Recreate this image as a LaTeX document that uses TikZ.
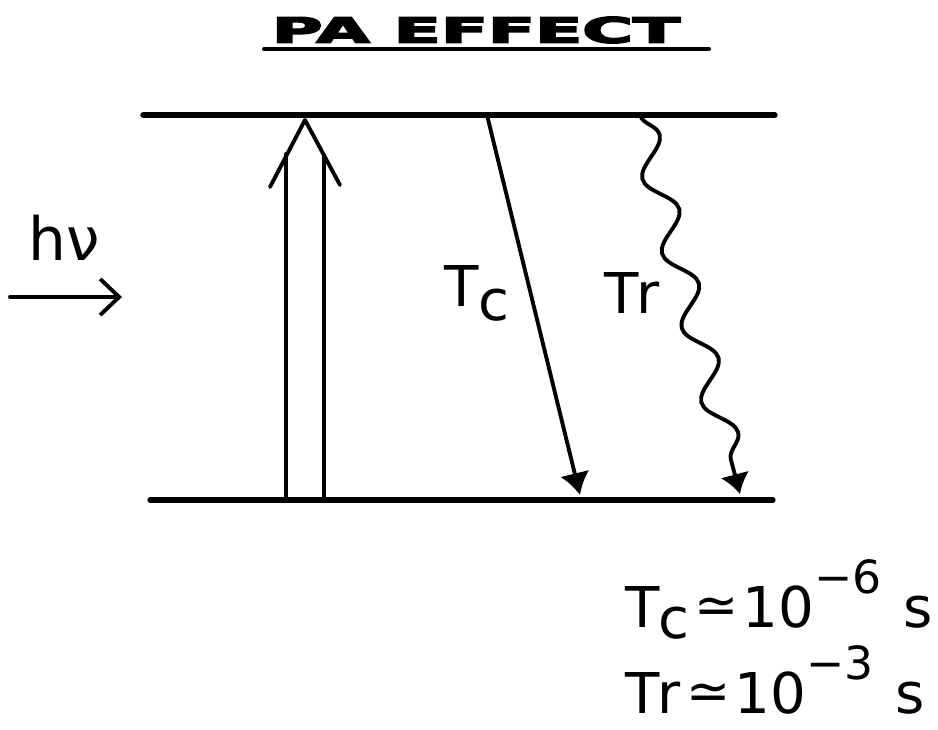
\documentclass[tikz,border=0pt]{standalone}
\usepackage{fontspec}
\setmainfont{DejaVu Sans}
\newfontfamily\titlefont[FakeBold=4]{DejaVu Sans Bold}
\usetikzlibrary{arrows.meta,decorations.pathmorphing}
\begin{document}
\begin{tikzpicture}[
  level/.style={line width=1.5pt, line cap=round},
  trans/.style={line width=1.1pt, line cap=round},
  lbl/.style={font=\fontsize{16}{16}\selectfont, inner sep=0pt},
  eqn/.style={font=\fontsize{16}{16}\selectfont, inner sep=0pt, anchor=base west}
]
\useasboundingbox (0,0) rectangle (9.38,7.29);
% title
\node[inner sep=0pt] (title) at (4.76,6.99) {\resizebox{4.08cm}{0.26cm}{\titlefont PA EFFECT}};
\draw[line width=1.3pt, line cap=round] ([xshift=-0.07cm,yshift=-0.05cm]title.south west) -- ([xshift=0.28cm,yshift=-0.05cm]title.south east);
% levels
\coordinate (top-l) at (1.43,6.14);
\coordinate (top-r) at (7.75,6.14);
\coordinate (bot-l) at (1.50,2.29);
\coordinate (bot-r) at (7.73,2.29);
\draw[level] (top-l) -- (top-r);
\draw[level] (bot-l) -- (bot-r);
% absorption
\coordinate (abs-l) at (2.86,2.29);
\coordinate (abs-lt) at (2.86,5.75);
\coordinate (abs-r) at (3.24,2.29);
\coordinate (abs-rt) at (3.24,5.74);
\coordinate (abs-top) at (3.05,6.09);
\coordinate (head-l) at (2.70,5.42);
\coordinate (head-r) at (3.40,5.44);
\draw[trans] (abs-l) -- (abs-lt);
\draw[trans] (abs-r) -- (abs-rt);
\draw[trans, line join=round] (head-l) -- (abs-top) -- (head-r);
% non radiative
\coordinate (tc-a) at (4.87,6.14);
\coordinate (tc-b) at (5.80,2.34);
\draw[trans, -{Latex[length=0.22cm,width=0.3cm]}] (tc-a) -- (tc-b);
% radiative
\coordinate (tr-a) at (6.40,6.14);
\coordinate (tr-b) at (7.40,2.35);
\draw[trans, -{Latex[length=0.2cm,width=0.3cm]}, decorate,
  decoration={snake, segment length=0.77cm, amplitude=0.14cm, post length=0.22cm}] (tr-a) -- (tr-b);
\node[lbl] (lblTc) at (4.77,4.36) {T\raisebox{-0.25em}{c}};
\node[lbl] (lblTr) at (6.32,4.36) {T\kern-0.05em r};
% light
\node[font=\fontsize{17}{17}\selectfont, inner sep=0pt] (hnu) at (0.64,4.91) {hν};
\coordinate (beam-a) at (0.10,4.32);
\coordinate (beam-b) at (1.22,4.32);
\draw[trans, -{Straight Barb[length=0.19cm,width=0.36cm]}] (beam-a) -- (beam-b);
% times
\node[eqn] (eqTc) at (6.25,1.02) {T\kern-0.03em\raisebox{-0.2em}{c}\hspace{0.05cm}\raisebox{0.04cm}{\fontsize{15}{15}\selectfont ≃}\hspace{0.04cm}10\raisebox{0.34cm}{\fontsize{13}{13}\selectfont −6}\hspace{0.22cm}s};
\node[eqn] (eqTr) at (6.25,0.16) {T\kern-0.05em r\hspace{0.06cm}\raisebox{0.04cm}{\fontsize{15}{15}\selectfont ≃}\hspace{0.04cm}10\raisebox{0.34cm}{\fontsize{13}{13}\selectfont −3}\hspace{0.22cm}s};
\end{tikzpicture}
\end{document}
